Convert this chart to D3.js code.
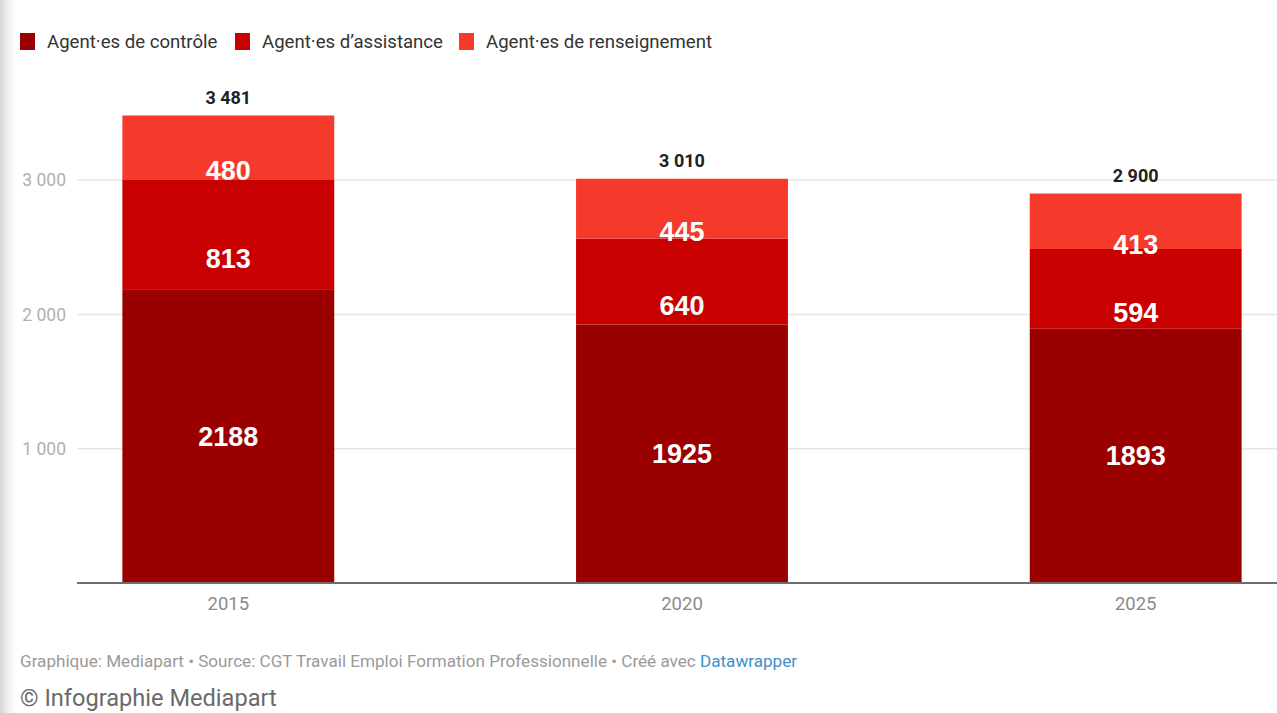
<!DOCTYPE html>
<html><head><meta charset="utf-8">
<script src="https://cdn.jsdelivr.net/npm/d3@7/dist/d3.min.js"></script>
<style>
html,body{margin:0;padding:0;background:#fff;overflow:hidden}
svg{display:block}
</style></head>
<body><svg id="chart" width="1277" height="713"></svg>
<script>
const years = ["2015", "2020", "2025"];
const seriesNames = ["Agent·es de contrôle", "Agent·es d’assistance", "Agent·es de renseignement"];
const controle = [2188, 1925, 1893];
const assistance = [813, 640, 594];
const renseignement = [480, 445, 413];
const totals = [3481, 3010, 2900];
const yTicks = [1000, 2000, 3000];
const colors = ["#9b0000", "#c90000", "#f5392b"];

const svg = d3.select("#chart");
const W = 1277, H = 713;

// left edge shadow
const defs = svg.append("defs");
const g0 = defs.append("linearGradient").attr("id","shade").attr("x1","0").attr("x2","1");
g0.append("stop").attr("offset","0").attr("stop-color","#d6d6d6");
g0.append("stop").attr("offset","0.5").attr("stop-color","#efefef");
g0.append("stop").attr("offset","1").attr("stop-color","#ffffff");
svg.append("rect").attr("x",0).attr("y",0).attr("width",16).attr("height",H).attr("fill","url(#shade)");

const table = years.map((yr, i) => ({year: yr, c: controle[i], a: assistance[i], r: renseignement[i], total: totals[i]}));
const keys = ["c", "a", "r"];
const stacked = d3.stack().keys(keys)(table);

const x = d3.scaleBand().domain(years).range([77, 1287]).paddingInner(0.533).paddingOuter(0.1);
const y = d3.scaleLinear().domain([0, 3481]).range([583, 115.5]);

const fr = d3.formatLocale({decimal: ",", thousands: "\u00a0", grouping: [3], currency: ["", " €"]});
const fmt = fr.format(",d");

// grid
svg.append("g").selectAll("line").data(yTicks).join("line")
  .attr("x1", 77).attr("x2", W)
  .attr("y1", d => y(d)).attr("y2", d => y(d))
  .attr("stroke", "#e6e6e6").attr("stroke-width", 1.5);

svg.append("g").selectAll("text").data(yTicks).join("text")
  .attr("x", 66).attr("y", d => y(d)).attr("dy", "0.35em")
  .attr("text-anchor", "end")
  .attr("font-family", "Roboto, sans-serif").attr("font-size", 17.5)
  .attr("fill", "#b0b0b0")
  .text(d => fmt(d));

// bars
const layers = svg.append("g").selectAll("g").data(stacked).join("g")
  .attr("fill", (d, i) => colors[i]);
layers.selectAll("rect").data(d => d).join("rect")
  .attr("x", d => x(d.data.year))
  .attr("width", x.bandwidth())
  .attr("y", d => y(d[1]))
  .attr("height", d => y(d[0]) - y(d[1]));

// value labels
const labelShift = [0, 24, 23];
stacked.forEach((layer, li) => {
  svg.append("g").selectAll("text").data(layer).join("text")
    .attr("x", d => x(d.data.year) + x.bandwidth() / 2)
    .attr("y", d => (y(d[0]) + y(d[1])) / 2 + labelShift[li])
    .attr("dy", "0.35em")
    .attr("text-anchor", "middle")
    .attr("font-family", "Liberation Sans, Arial, sans-serif")
    .attr("font-weight", "bold").attr("font-size", 27)
    .attr("fill", "#fff")
    .text(d => d.data[layer.key]);
});

// totals
svg.append("g").selectAll("text").data(table).join("text")
  .attr("x", d => x(d.year) + x.bandwidth() / 2)
  .attr("y", d => y(d.total) - 18)
  .attr("dy", "0.35em")
  .attr("text-anchor", "middle")
  .attr("font-family", "Roboto, sans-serif").attr("font-weight", "bold").attr("font-size", 18)
  .attr("fill", "#222")
  .text(d => fmt(d.total));

// x axis line
svg.append("line").attr("x1", 77).attr("x2", W).attr("y1", y(0)).attr("y2", y(0))
  .attr("stroke", "#6e6e6e").attr("stroke-width", 2);

svg.append("g").selectAll("text").data(years).join("text")
  .attr("x", d => x(d) + x.bandwidth() / 2).attr("y", 604).attr("dy", "0.35em")
  .attr("text-anchor", "middle")
  .attr("font-family", "Roboto, sans-serif").attr("font-size", 18.5)
  .attr("fill", "#8a8a8a")
  .text(d => d);

// legend
const legX = [20, 235, 459];
const leg = svg.append("g").selectAll("g").data(seriesNames).join("g")
  .attr("transform", (d, i) => `translate(${legX[i]},33)`);
leg.append("rect").attr("width", 15).attr("height", 17).attr("fill", (d, i) => colors[i]);
leg.append("text").attr("x", 27).attr("y", 8.5).attr("dy", "0.35em")
  .attr("font-family", "Roboto, sans-serif").attr("font-size", 18.6)
  .attr("fill", "#333").text(d => d);

// footer
const foot = svg.append("text").attr("x", 20).attr("y", 661).attr("dy", "0.35em")
  .attr("font-family", "Roboto, sans-serif").attr("font-size", 17.1)
  .attr("fill", "#9a9a9a");
foot.append("tspan").text("Graphique: Mediapart • Source: CGT Travail Emploi Formation Professionnelle • Créé avec ");
foot.append("tspan").attr("fill", "#3f8fcb").text("Datawrapper");

svg.append("text").attr("x", 20).attr("y", 698).attr("dy", "0.35em")
  .attr("font-family", "Roboto, sans-serif").attr("font-size", 23.6)
  .attr("fill", "#6a6a6a").text("© Infographie Mediapart");
</script>
</body></html>
